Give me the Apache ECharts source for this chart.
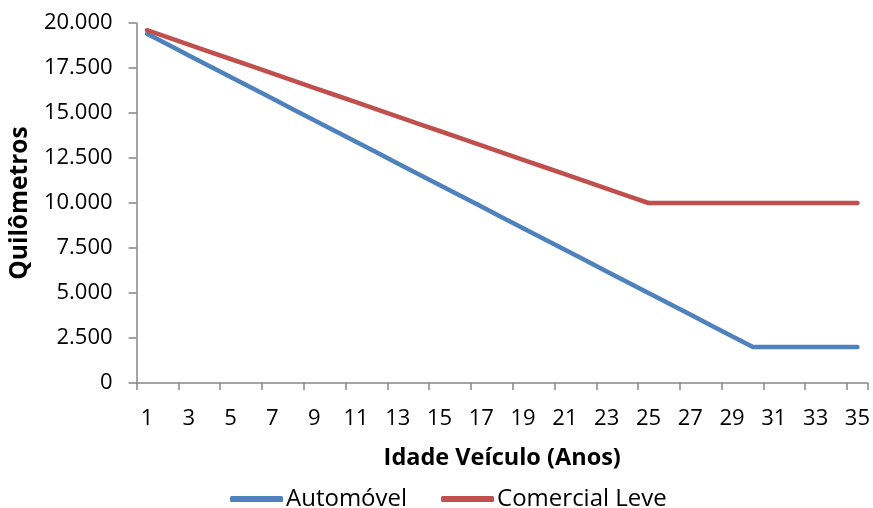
<!DOCTYPE html>
<html>
<head>
<meta charset="utf-8">
<script src="https://cdn.jsdelivr.net/npm/echarts@6/dist/echarts.min.js"></script>
<style>
html,body{margin:0;padding:0;background:#fff;}
#chart{width:873px;height:508px;}
</style>
</head>
<body>
<div id="chart"></div>
<script>
// Vehicle age in years
const idades = [1,2,3,4,5,6,7,8,9,10,11,12,13,14,15,16,17,18,19,20,21,22,23,24,25,26,27,28,29,30,31,32,33,34,35];
// Annual kilometres driven by vehicle age
const automovel = [19400,18800,18200,17600,17000,16400,15800,15200,14600,14000,13400,12800,12200,11600,11000,10400,9800,9200,8600,8000,7400,6800,6200,5600,5000,4400,3800,3200,2600,2000,2000,2000,2000,2000,2000];
const comercialLeve = [19600,19200,18800,18400,18000,17600,17200,16800,16400,16000,15600,15200,14800,14400,14000,13600,13200,12800,12400,12000,11600,11200,10800,10400,10000,10000,10000,10000,10000,10000,10000,10000,10000,10000,10000];
const yTicks = [0,2500,5000,7500,10000,12500,15000,17500,20000];

const fontFam = '"Open Sans", "Noto Sans", sans-serif';
const fmt = v => v === 0 ? '0' : String(v).replace(/\B(?=(\d{3})+(?!\d))/g, '.');

const chart = echarts.init(document.getElementById('chart'));
chart.setOption({
  animation: false,
  grid: {left: 136, right: 5, top: 23, bottom: 125, containLabel: false},
  legend: {
    top: 487, left: 230, padding: 0,
    itemWidth: 53, itemHeight: 6, itemGap: 34,
    icon: 'roundRect',
    textStyle: {fontFamily: fontFam, fontSize: 24, color: '#000', padding: [0,0,0,-2]},
    data: ['Automóvel', 'Comercial Leve']
  },
  xAxis: {
    type: 'category',
    data: idades,
    boundaryGap: true,
    name: 'Idade Veículo (Anos)',
    nameLocation: 'middle',
    nameGap: 63,
    nameTextStyle: {fontFamily: fontFam, fontSize: 23.5, fontWeight: 'bold', color: '#000'},
    axisLine: {lineStyle: {color: '#868686', width: 1.5}},
    axisTick: {show: true, interval: 1, length: 7, lineStyle: {color: '#868686', width: 1.5}},
    axisLabel: {interval: 1, fontFamily: fontFam, fontSize: 22, color: '#000', margin: 25}
  },
  yAxis: {
    type: 'value',
    min: 0, max: 20000, interval: 2500,
    name: 'Quilômetros',
    nameLocation: 'middle',
    nameGap: 101,
    nameTextStyle: {fontFamily: fontFam, fontSize: 24.5, fontWeight: 'bold', color: '#000'},
    splitLine: {show: false},
    axisLine: {show: true, lineStyle: {color: '#868686', width: 1.5}},
    axisTick: {show: true, length: 8, lineStyle: {color: '#868686', width: 1.5}},
    axisLabel: {
      fontFamily: fontFam, fontSize: 22, color: '#000', margin: 24,
      formatter: v => yTicks.includes(v) ? fmt(v) : ''
    }
  },
  series: [
    {
      name: 'Automóvel', type: 'line', data: automovel,
      symbol: 'none', lineStyle: {width: 4.5, color: '#4F81BD', cap: 'round', join: 'round'},
      itemStyle: {color: '#4F81BD'}
    },
    {
      name: 'Comercial Leve', type: 'line', data: comercialLeve,
      symbol: 'none', lineStyle: {width: 4.5, color: '#C0504D', cap: 'round', join: 'round'},
      itemStyle: {color: '#C0504D'}
    }
  ]
});
</script>
</body>
</html>
